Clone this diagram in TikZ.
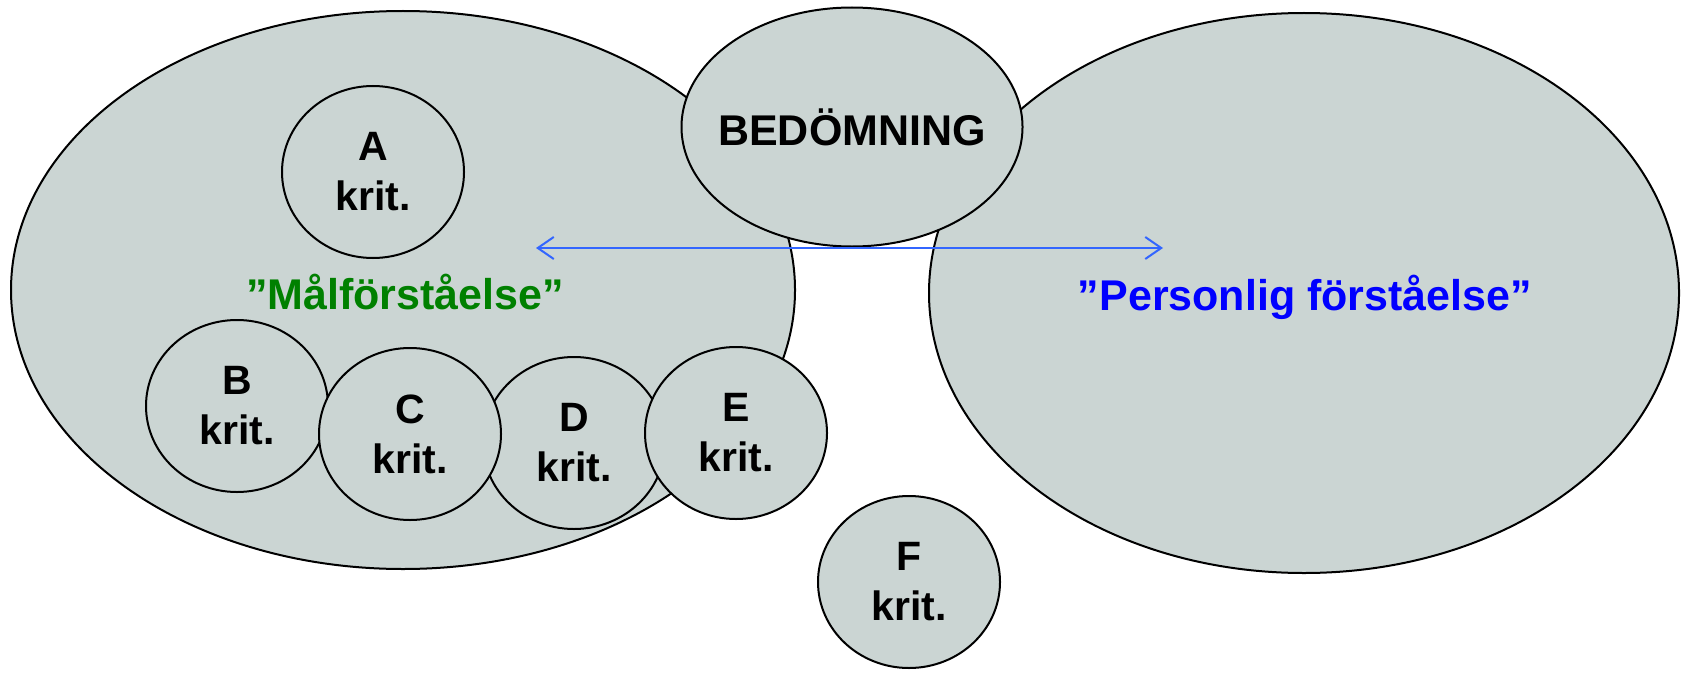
\documentclass[tikz,border=0pt]{standalone}
\usepackage{fontspec}
\setmainfont{Liberation Sans}
\usetikzlibrary{shapes.geometric,arrows.meta}
\definecolor{blobfill}{RGB}{203,213,211}
\definecolor{mgreen}{RGB}{0,128,0}
\definecolor{mblue}{RGB}{0,0,255}
\definecolor{arrowblue}{RGB}{51,102,255}
\tikzset{
  blob/.style={ellipse, draw=black, line width=1pt, fill=blobfill, inner sep=0pt, align=center,
    font=\fontsize{21.5}{25}\selectfont\bfseries},
  krit/.style={blob, minimum width=91pt, minimum height=86pt, font=\fontsize{20.5}{25}\selectfont\bfseries},
  lbl/.style={font=\fontsize{21.5}{25}\selectfont\bfseries, inner sep=0pt},
  dbl/.style={arrowblue, line width=1pt, {Straight Barb[length=8pt,width=11pt,line width=1pt]}-{Straight Barb[length=8pt,width=11pt,line width=1pt]}}
}
\begin{document}
\begin{tikzpicture}[x=0.5pt,y=-0.5pt]
\useasboundingbox (0,0) rectangle (1689,674);
\node[blob, minimum width=392pt, minimum height=279pt] (left) at (403,290) {};
\node[blob, minimum width=375pt, minimum height=280pt] (right) at (1304,293) {};
\node[krit] (A) at (373,172) {A\\krit.};
\node[krit] (B) at (237,406) {B\\krit.};
\node[krit] (D) at (574,443) {D\\krit.};
\node[krit] (C) at (410,434) {C\\krit.};
\node[krit] (E) at (736,433) {E\\krit.};
\node[krit] (F) at (909,582) {F\\krit.};
\node[blob, minimum width=170.5pt, minimum height=119.5pt] (bed) at (852,127) {};
\node[lbl] (bedtxt) at (bed.center) {BEDÖMNING};
\node[lbl, text=mgreen] (mal) at (405,292) {”Målförståelse”};
\node[lbl, text=mblue] (pers) at (1305,297) {”Personlig förståelse”};
\coordinate (a1) at (536,248);
\coordinate (a2) at (1163,248);
\draw[dbl] (a1) -- (a2);
\end{tikzpicture}
\end{document}
